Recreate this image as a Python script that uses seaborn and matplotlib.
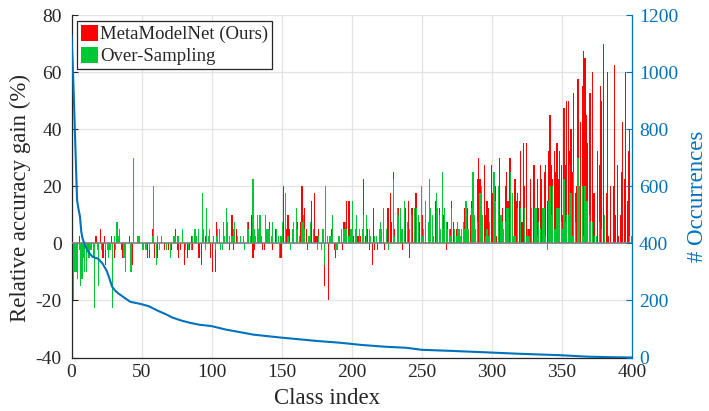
import numpy as np
import pandas as pd
import matplotlib
matplotlib.use("Agg")
import matplotlib.pyplot as plt
import seaborn as sns
from matplotlib.patches import Patch

# ---------------- data ----------------
series_labels = ["MetaModelNet (Ours)", "Over-Sampling"]

# relative accuracy gain (%) of MetaModelNet, classes 1..400
meta_gain = [
    2.5, 0, 0, -2.5, 0, 2.5, 0, 0, 0, 0, 0, 0, 0, 0, -2.5, 0, -15, 2.5, 0, 0,
    5, 0, -5, 2.5, -7.5, 0, -2.5, 0, 2.5, 0, -5, 0, 0, 2.5, 0, -2.5, -5, 0, -7.5, 0,
    0, 2.5, 0, -7.5, 0, 0, 0, 0, 0, 0, -2.5, 0, -2.5, 0, -5, -5, 0, 5, 0, -5,
    0, -5, -2.5, 0, 0, 0, -2.5, -2.5, 0, -2.5, 0, -2.5, 2.5, 2.5, 5, -2.5, -5, -2.5, 0, 0,
    -7.5, -2.5, -5, 0, -2.5, 2.5, -2.5, 2.5, 0, 0, -5, -5, -7.5, 0, 0, 2.5, 0, 0, 0, -5,
    -10, 0, -10, 7.5, 0, 5, -2.5, -2.5, 2.5, 2.5, 0, 0, -2.5, 0, 10, -2.5, 0, 5, 2.5, 0,
    0, 0, 0, 0, 0, 0, 7.5, 0, 10, -5, -2.5, 0, 5, 0, 0, 0, -2.5, -2.5, 0, 2.5,
    0, 7.5, 2.5, -2.5, 0, 5, 0, 0, -5, -5, 0, 20, 0, 5, 10, 5, -2.5, 0, 0, 0,
    0, 7.5, 0, 7.5, 20, 0, 12.5, 5, -2.5, 0, 0, 15, 5, 17.5, 2.5, 2.5, 5, 0, -2.5, 0,
    -15, 0, 0, -20, 0, 5, 0, -2.5, -5, 0, 2.5, 2.5, 0, -2.5, 7.5, 0, 15, 15, 15, 0,
    0, 2.5, 0, 0, 2.5, 0, 2.5, 0, 22.5, 2.5, 0, 5, -2.5, 0, -7.5, 12.5, -2.5, 0, -2.5, 5,
    0, 5, 0, -2.5, 0, 12.5, 12.5, 17.5, 7.5, 25, 5, 0, 0, 12.5, 7.5, 0, -2.5, 0, 12.5, 0,
    15, -5, 12.5, 12.5, 7.5, 17.5, 17.5, 7.5, 7.5, 0, 10, 0, 0, 0, 7.5, 10, 10, 10, 0, 15,
    0, 7.5, 12.5, 0, 0, 10, 10, -2.5, 7.5, 0, 5, 15, 7.5, 0, 5, 5, 0, 0, 0, 0,
    12.5, 7.5, 12.5, 0, 10, 15, 0, 7.5, 0, 22.5, 30, 22.5, 10, 0, 27.5, 10, 15, 12.5, 0, 27.5,
    17.5, 0, 20, 2.5, 15, 30, 0, 12.5, 0, 20, 25, 15, 30, 30, 0, 0, 22.5, 15, 17.5, 15,
    32.5, 7.5, 35, 20, 35, 0, 5, 22.5, 0, 27.5, 27.5, 0, 22.5, 12.5, 27.5, 22.5, 0, 25, 27.5, 15,
    32.5, 45, 27.5, 22.5, 32.5, 25, 35, 22.5, 32.5, 27.5, 10, 47.5, 27.5, 50, 50, 32.5, 40, 25, 52.5, 17.5,
    20, 57.5, 15, 42.5, 55, 67.5, 65, 45, 35, 52.5, 52.5, 60, 17.5, 17.5, 2.5, 32.5, 27.5, 55, 50, 70,
    2.5, 17.5, 60, 2.5, 20, 0, 20, 62.5, 10, 27.5, 2.5, 10, 25, 42.5, 22.5, 60, 15, 32.5, 40, 0,
]

# relative accuracy gain (%) of Over-Sampling, classes 1..400
over_gain = [
    0, -20, -10, -10, -12.5, -2.5, -15, -12.5, -5, -10, -10, -2.5, -5, -2.5, -2.5, -5, -22.5, 0, -2.5, -15,
    0, -2.5, 0, 0, -2.5, -2.5, -5, -2.5, 0, -22.5, 2.5, -2.5, 7.5, 2.5, 5, 0, 0, -5, -10, 0,
    0, 0, -10, 0, 30, 0, 0, 2.5, 2.5, 0, -2.5, -2.5, -2.5, -2.5, 0, -2.5, 0, 2.5, 20, 0,
    -7.5, 2.5, -2.5, 0, 2.5, 0, 0, -2.5, 0, 0, -5, 0, 2.5, 2.5, 2.5, 2.5, 2.5, 0, 0, 5,
    0, -2.5, 0, -2.5, 0, -2.5, 2.5, 5, 5, 2.5, 5, 0, 0, 17.5, 5, -2.5, 12.5, 2.5, 5, 0,
    0, 2.5, -2.5, 2.5, 5, 5, -2.5, -2.5, 7.5, 2.5, 12.5, 7.5, 2.5, 0, 2.5, 5, 7.5, 0, 2.5, 0,
    2.5, 0, 2.5, -2.5, 0, 7.5, 5, 2.5, 0, 22.5, 5, 2.5, 10, 5, 10, 2.5, 0, 0, 10, 5,
    5, 5, 2.5, 7.5, 0, 0, 5, 2.5, -5, 2.5, 7.5, 0, 17.5, 0, 2.5, 0, -2.5, 5, 7.5, 0,
    12.5, 5, 2.5, 0, 7.5, 10, 5, 0, 0, 2.5, 7.5, 0, 5, 0, 0, -2.5, 2.5, 0, -2.5, 5,
    -7.5, 20, 2.5, 0, 2.5, 2.5, 10, 0, -2.5, -2.5, 2.5, 2.5, 5, 0, 5, 7.5, 5, 2.5, 2.5, 5,
    15, 0, 5, 10, 0, 5, 0, 5, 10, 0, 10, 0, 5, 2.5, 0, 0, 2.5, 2.5, 0, 5,
    7.5, 5, 12.5, 0, 5, 0, -2.5, 0, 0, 22.5, 2.5, 0, 12.5, 10, 12.5, 5, 5, 15, 0, 7.5,
    0, 5, 10, 0, 12.5, 0, 12.5, 10, 0, 20, 2.5, 5, 15, 0, 7.5, 22.5, 12.5, 10, 2.5, 0,
    17.5, 12.5, 10, 5, 25, 5, 12.5, 7.5, 5, 5, 2.5, 12.5, 0, 5, 2.5, 7.5, 5, 2.5, 5, 7.5,
    5, 15, 5, 5, 0, 12.5, 25, 10, 5, 7.5, 0, 17.5, 20, 10, 0, 2.5, 5, 2.5, 7.5, 0,
    0, 25, 15, 0, 20, 0, 10, 7.5, 5, 7.5, 12.5, 12.5, 0, 25, 17.5, 2.5, 2.5, 0, 12.5, 0,
    12.5, 0, 0, 12.5, 2.5, 5, 2.5, 0, 12.5, 0, 12.5, 12.5, 2.5, 7.5, 5, 0, 12.5, 12.5, 2.5, -2.5,
    15, 20, 10, 20, 5, 5, 12.5, 12.5, 12.5, 7.5, 5, 22.5, 7.5, 10, 10, 27.5, 17.5, 2.5, 25, 7.5,
    0, 30, 20, 0, 20, 2.5, 20, 15, 15, 10, 7.5, 7.5, 0, 2.5, 2.5, 0, 7.5, 0, 5, 0,
    10, 0, 0, 0, 0, 0, 0, 0, 0, 0, 0, 0, 0, 0, 0, 0, 0, 0, 2.5, 2.5,
]

# number of occurrences per class (sorted, descending)
occ_index = [0, 1, 2, 3, 4, 5, 6, 7, 8, 10, 12, 15, 19, 22, 25, 27, 29, 31, 33, 37,
             42, 49, 55, 62, 68, 72, 78, 85, 91, 100, 110, 120, 130, 149, 162, 175,
             191, 207, 223, 239, 250, 272, 301, 320, 349, 368, 385, 400]
occ_count = [1130, 1010, 860, 700, 550, 520, 495, 440, 415, 388, 370, 353, 346, 330,
             305, 278, 248, 235, 226, 212, 195, 188, 180, 163, 150, 140, 130, 121, 115,
             110, 98, 89, 80, 70, 64, 58, 52, 44, 38, 34, 27, 23, 17, 13, 8, 3, 1, 0]

x_ticks = [0, 50, 100, 150, 200, 250, 300, 350, 400]
gain_ticks = [-40, -20, 0, 20, 40, 60, 80]
occ_ticks = [0, 200, 400, 600, 800, 1000, 1200]

# ---------------- style ----------------
RED = "#FF0000"
GREEN = "#00C832"
BLUE = "#0072BD"
DARK = "#262626"

sns.set_style("white")
plt.rcParams["font.family"] = ["Liberation Serif", "DejaVu Serif"]
plt.rcParams["axes.unicode_minus"] = False

fig = plt.figure(figsize=(7.09, 4.11), dpi=100)
L, R, T, B = 71.5, 632.0, 15.0, 357.5
ax = fig.add_axes([L / 709, (411 - B) / 411, (R - L) / 709, (B - T) / 411])

n = len(meta_gain)
df = pd.DataFrame({
    "cls": np.arange(n) + 0.5,
    "meta": meta_gain,
    "over": over_gain,
})

sns.barplot(data=df, x="cls", y="meta", native_scale=True, width=0.8,
            color=RED, saturation=1, errorbar=None, linewidth=0,
            edgecolor="none", ax=ax, zorder=2, antialiased=False)
sns.barplot(data=df, x="cls", y="over", native_scale=True, width=0.8,
            color=GREEN, saturation=1, errorbar=None, linewidth=0,
            edgecolor="none", ax=ax, zorder=3, antialiased=False)
ax.axhline(0, color="#808080", lw=1.2, zorder=4)

ax.set_xlim(0, 400)
ax.set_ylim(-40, 80)
ax.set_xticks(x_ticks)
ax.set_xticklabels([str(t) for t in x_ticks])
ax.set_yticks(gain_ticks)
ax.set_yticklabels([str(t) for t in gain_ticks])
ax.grid(True, color="#E3E3E3", lw=0.9, zorder=0)
ax.set_axisbelow(True)
ax.tick_params(axis="both", direction="in", length=4, width=0.8, colors=DARK,
               labelsize=14)
ax.tick_params(axis="y", pad=7)
ax.tick_params(axis="x", pad=5)
for s in ["left", "bottom"]:
    ax.spines[s].set_color(DARK)
    ax.spines[s].set_linewidth(0.9)
ax.spines["top"].set_visible(False)
ax.spines["right"].set_visible(False)

ax.set_xlabel("Class index", fontsize=16.5, color=DARK)
ax.set_ylabel("Relative accuracy gain (%)", fontsize=16.5, color=DARK)
ax.xaxis.set_label_coords(0.456, -0.088)
ax.yaxis.set_label_coords(-0.072, 0.466)

# second axis: occurrences
ax2 = ax.twinx()
sns.lineplot(x=occ_index, y=occ_count, ax=ax2, color=BLUE, lw=1.5)
ax2.set_ylim(0, 1200)
ax2.set_xlim(0, 400)
ax2.set_yticks(occ_ticks)
ax2.set_yticklabels([str(t) for t in occ_ticks])
ax2.tick_params(axis="y", direction="in", length=4, width=0.8, colors=BLUE,
                labelsize=14, pad=5)
for s in ["left", "top", "bottom"]:
    ax2.spines[s].set_visible(False)
ax2.spines["right"].set_color(BLUE)
ax2.spines["right"].set_linewidth(0.9)
ax2.set_ylabel("# Occurrences", fontsize=16.5, color=BLUE)
ax2.yaxis.set_label_coords(1.099, 0.4715)
ax2.grid(False)

handles = [Patch(facecolor=RED, edgecolor="none"),
           Patch(facecolor=GREEN, edgecolor="none")]
leg = ax.legend(handles, series_labels, loc="upper left",
                bbox_to_anchor=((77 - L) / (R - L), (B - 21) / (B - T)),
                borderaxespad=0, fontsize=13.5, handlelength=0.9,
                handleheight=0.95, handletextpad=0.15, labelspacing=0.18,
                borderpad=0.2, fancybox=False, framealpha=1,
                edgecolor=DARK)
leg.get_frame().set_linewidth(0.9)
leg.set_zorder(10)

fig.savefig("out.png", dpi=100)
